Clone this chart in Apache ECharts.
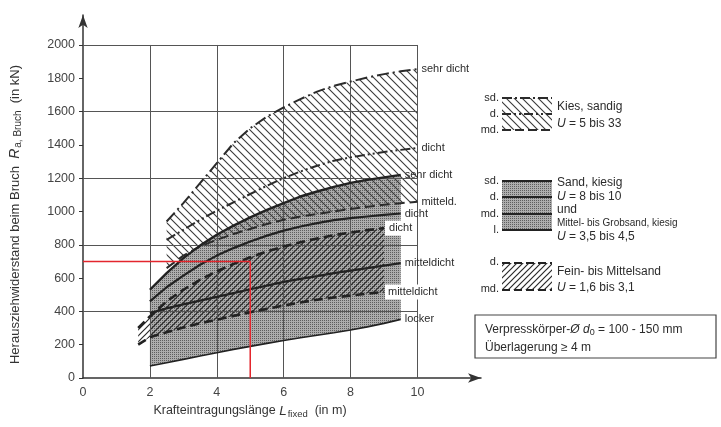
<!DOCTYPE html>
<html><head><meta charset="utf-8">
<script src="https://cdn.jsdelivr.net/npm/echarts@6/dist/echarts.min.js"></script>
<style>html,body{margin:0;padding:0;background:#fff}#c{width:721px;height:427px}</style>
</head><body><div id="c"></div>
<script>
// ---- axes / ticks ----
const xTicks = [0, 2, 4, 6, 8, 10];
const yTicks = [0, 200, 400, 600, 800, 1000, 1200, 1400, 1600, 1800, 2000];
const gridX = [2, 4, 6, 8, 10];
const gridY = [400, 800, 1200, 1600, 2000];

// ---- Kies, sandig (U = 5 bis 33) ----
const kiesX  = [2.5, 3, 3.5, 4, 4.5, 5, 5.5, 6, 6.5, 7, 7.5, 8, 8.5, 9, 9.5, 10];
const kiesSd = [940, 1050, 1170, 1290, 1410, 1500, 1570, 1625, 1675, 1720, 1755, 1780, 1805, 1825, 1842, 1855];
const kiesD  = [830, 890, 950, 1005, 1055, 1105, 1155, 1200, 1240, 1275, 1305, 1325, 1342, 1357, 1370, 1382];
const kiesMd = [660, 735, 790, 830, 865, 895, 925, 950, 970, 985, 1000, 1015, 1028, 1040, 1050, 1058];

// ---- Sand, kiesig / Mittel- bis Grobsand, kiesig ----
const sandX  = [2, 2.5, 3, 3.5, 4, 4.5, 5, 5.5, 6, 6.5, 7, 7.5, 8, 8.5, 9, 9.5];
const sandSd = [530, 630, 720, 795, 860, 915, 965, 1010, 1050, 1090, 1120, 1148, 1172, 1190, 1205, 1220];
const sandD  = [460, 545, 615, 680, 735, 780, 820, 855, 885, 910, 930, 948, 960, 970, 980, 988];
const sandMd = [390, 418, 442, 465, 487, 510, 533, 555, 577, 595, 612, 630, 645, 660, 675, 690];
const sandL  = [72, 92, 112, 132, 152, 172, 190, 208, 225, 242, 257, 272, 288, 307, 328, 352];

// ---- Fein- bis Mittelsand (U = 1,6 bis 3,1) ----
const feinX  = [1.65, 2, 2.5, 3, 3.5, 4, 4.5, 5, 5.5, 6, 6.5, 7, 7.5, 8, 8.5, 9];
const feinD  = [300, 370, 460, 530, 590, 640, 685, 725, 760, 790, 815, 838, 858, 873, 888, 900];
const feinMd = [200, 245, 275, 303, 328, 350, 373, 395, 415, 435, 453, 470, 483, 495, 507, 517];

// ---- red reading line ----
const refX = [0, 5, 5];
const refY = [700, 700, 0];

const FONT = '"Liberation Sans", Arial, sans-serif';
const INK = '#2b2b2b';

function hatch(size, color, width, dir) {
  const c = document.createElement('canvas'); c.width = size; c.height = size;
  const g = c.getContext('2d'); g.strokeStyle = color; g.lineWidth = width;
  g.beginPath();
  if (dir === 'back') {
    g.moveTo(-1, -1); g.lineTo(size + 1, size + 1);
    g.moveTo(-1, size - 1); g.lineTo(1, size + 1);
    g.moveTo(size - 1, -1); g.lineTo(size + 1, 1);
  } else {
    g.moveTo(-1, size + 1); g.lineTo(size + 1, -1);
    g.moveTo(-1, 1); g.lineTo(1, -1);
    g.moveTo(size - 1, size + 1); g.lineTo(size + 1, size - 1);
  }
  g.stroke();
  return c;
}
function dots() {
  const c = document.createElement('canvas'); c.width = 2; c.height = 2;
  const g = c.getContext('2d');
  g.fillStyle = '#adadad'; g.fillRect(0, 0, 2, 2);
  g.fillStyle = '#5e5e5e'; g.fillRect(0, 0, 1, 1);
  return c;
}
const kiesPat = { image: hatch(8, '#3a3a3a', 1.1, 'back'), repeat: 'repeat' };
const feinPat = { image: hatch(6, '#2a2a2a', 1.2, 'fwd'), repeat: 'repeat' };
const grayPat = { image: dots(), repeat: 'repeat' };

function region(xs, up, lo, fill, z) {
  return {
    type: 'custom', z: z, silent: true, clip: false,
    data: [[xs[0], up[0]]],
    renderItem: function (params, api) {
      const pts = [];
      for (let i = 0; i < xs.length; i++) pts.push(api.coord([xs[i], up[i]]));
      for (let i = xs.length - 1; i >= 0; i--) pts.push(api.coord([xs[i], lo[i]]));
      return { type: 'polygon', shape: { points: pts }, style: { fill: fill } };
    }
  };
}
function curve(xs, ys, label, ls, lab) {
  return {
    type: 'line', z: 5, silent: true, symbol: 'none', showSymbol: false,
    data: xs.map((x, i) => [x, ys[i]]),
    lineStyle: Object.assign({ color: INK, width: 2 }, ls),
    endLabel: Object.assign({ show: true, formatter: label, color: INK, fontSize: 11,
      fontFamily: FONT, distance: 4 }, lab || {})
  };
}

const markData = [];
gridY.forEach(v => markData.push([{ coord: [0, v] }, { coord: [10, v] }]));
gridX.forEach(v => markData.push([{ coord: [v, 0] }, { coord: [v, 2000] }]));

const chart = echarts.init(document.getElementById('c'));
chart.setOption({
  animation: false,
  backgroundColor: '#ffffff',
  textStyle: { fontFamily: FONT },
  grid: { left: 78, right: 240, top: 15, bottom: 49, containLabel: false },
  xAxis: {
    type: 'value', min: 0, max: 11.9, interval: 2,
    name: '{a|Krafteintragungslänge }{i|L}{s|fixed}{a|  (in m)}',
    nameLocation: 'middle', nameGap: 24,
    nameTextStyle: { padding: [0, 64, 0, 0], rich: {
      a: { fontSize: 12.5, color: '#333', fontFamily: FONT },
      i: { fontSize: 13.5, color: '#333', fontStyle: 'italic', fontFamily: FONT },
      s: { fontSize: 9.5, color: '#333', fontFamily: FONT, verticalAlign: 'bottom', padding: [6, 0, 0, 1] } } },
    axisLine: { show: true, symbol: ['none', 'arrow'], symbolSize: [7, 13], lineStyle: { color: '#333', width: 1.5 } },
    axisTick: { show: false },
    axisLabel: { customValues: xTicks, color: '#444', fontSize: 12.5, margin: 8, formatter: v => String(v) },
    splitLine: { show: false }
  },
  yAxis: {
    type: 'value', min: 0, max: 2180, interval: 200,
    name: '{a|Herausziehwiderstand beim Bruch  }{i|R}{s|a, Bruch}{a|  (in kN)}',
    nameLocation: 'middle', nameGap: 60, nameRotate: 90,
    nameTextStyle: { padding: [0, 36, 0, 0], rich: {
      a: { fontSize: 13, color: '#333', fontFamily: FONT },
      i: { fontSize: 14, color: '#333', fontStyle: 'italic', fontFamily: FONT },
      s: { fontSize: 10, color: '#333', fontFamily: FONT, verticalAlign: 'bottom', padding: [6, 0, 0, 1] } } },
    axisLine: { show: true, symbol: ['none', 'arrow'], symbolSize: [7, 13], lineStyle: { color: '#333', width: 1.5 } },
    axisTick: { show: true, customValues: yTicks, length: 4, lineStyle: { color: '#333' } },
    axisLabel: { customValues: yTicks, color: '#444', fontSize: 12.5, margin: 8, formatter: v => String(v) },
    splitLine: { show: false }
  },
  series: [
    region(sandX, sandSd, sandL, grayPat, 1),
    region(feinX, feinD, feinMd, feinPat, 2),
    region(kiesX, kiesSd, kiesMd, kiesPat, 2),
    {
      type: 'line', data: [], z: 4, silent: true,
      markLine: { silent: true, symbol: 'none', label: { show: false },
        lineStyle: { color: '#555', width: 1, type: 'solid' }, data: markData }
    },
    curve(kiesX, kiesSd, 'sehr dicht', { type: [12, 4, 2, 4], width: 2 }),
    curve(kiesX, kiesD, 'dicht', { type: [10, 3, 2, 3, 2, 3], width: 2 }),
    curve(kiesX, kiesMd, 'mitteld.', { type: [10, 5], width: 2 }),
    curve(sandX, sandSd, 'sehr dicht', { width: 2.4, color: '#222' }),
    curve(sandX, sandD, 'dicht', { width: 2.2, color: '#222' }),
    curve(sandX, sandMd, 'mitteldicht', { width: 2.2, color: '#222' }),
    curve(sandX, sandL, 'locker', { width: 1.6, color: '#222' }),
    curve(feinX, feinD, 'dicht', { type: [9, 5], width: 2.6, color: '#222' },
      { backgroundColor: '#fff', padding: [2, 4], distance: 1 }),
    curve(feinX, feinMd, 'mitteldicht', { type: [9, 5], width: 2.6, color: '#222' },
      { backgroundColor: '#fff', padding: [2, 3], distance: 1 }),
    {
      type: 'line', z: 6, silent: true, symbol: 'none',
      data: refX.map((x, i) => [x, refY[i]]),
      lineStyle: { color: '#e3262d', width: 1.5 }
    }
  ],
  graphic: [
    // Kies legend
    { type: 'rect', shape: { x: 502, y: 98, width: 50, height: 32 }, style: { fill: kiesPat } },
    { type: 'line', shape: { x1: 502, y1: 98, x2: 552, y2: 98 }, style: { stroke: INK, lineWidth: 1.8, lineDash: [10, 3, 2, 3] } },
    { type: 'line', shape: { x1: 502, y1: 114, x2: 552, y2: 114 }, style: { stroke: INK, lineWidth: 1.8, lineDash: [9, 3, 2, 3, 2, 3] } },
    { type: 'line', shape: { x1: 502, y1: 130, x2: 552, y2: 130 }, style: { stroke: INK, lineWidth: 1.8, lineDash: [9, 4] } },
    { type: 'text', x: 499, y: 98, style: { text: 'sd.', fontSize: 11, fontFamily: FONT, fill: INK, align: 'right', verticalAlign: 'middle' } },
    { type: 'text', x: 499, y: 114, style: { text: 'd.', fontSize: 11, fontFamily: FONT, fill: INK, align: 'right', verticalAlign: 'middle' } },
    { type: 'text', x: 499, y: 130, style: { text: 'md.', fontSize: 11, fontFamily: FONT, fill: INK, align: 'right', verticalAlign: 'middle' } },
    { type: 'text', x: 557, y: 107, style: { text: 'Kies, sandig', fontSize: 12, fontFamily: FONT, fill: INK, verticalAlign: 'middle' } },
    { type: 'text', x: 557, y: 124, style: { text: '{i|U} = 5 bis 33', fontSize: 12, fontFamily: FONT, fill: INK, verticalAlign: 'middle',
      rich: { i: { fontStyle: 'italic', fontSize: 12, fontFamily: FONT, fill: INK } } } },
    // Sand legend
    { type: 'rect', shape: { x: 502, y: 181, width: 50, height: 49 }, style: { fill: grayPat } },
    { type: 'line', shape: { x1: 502, y1: 181, x2: 552, y2: 181 }, style: { stroke: '#222', lineWidth: 2 } },
    { type: 'line', shape: { x1: 502, y1: 197, x2: 552, y2: 197 }, style: { stroke: '#222', lineWidth: 2 } },
    { type: 'line', shape: { x1: 502, y1: 214, x2: 552, y2: 214 }, style: { stroke: '#222', lineWidth: 2 } },
    { type: 'line', shape: { x1: 502, y1: 230, x2: 552, y2: 230 }, style: { stroke: '#222', lineWidth: 2 } },
    { type: 'text', x: 499, y: 181, style: { text: 'sd.', fontSize: 11, fontFamily: FONT, fill: INK, align: 'right', verticalAlign: 'middle' } },
    { type: 'text', x: 499, y: 197, style: { text: 'd.', fontSize: 11, fontFamily: FONT, fill: INK, align: 'right', verticalAlign: 'middle' } },
    { type: 'text', x: 499, y: 214, style: { text: 'md.', fontSize: 11, fontFamily: FONT, fill: INK, align: 'right', verticalAlign: 'middle' } },
    { type: 'text', x: 499, y: 230, style: { text: 'l.', fontSize: 11, fontFamily: FONT, fill: INK, align: 'right', verticalAlign: 'middle' } },
    { type: 'text', x: 557, y: 183, style: { text: 'Sand, kiesig', fontSize: 12, fontFamily: FONT, fill: INK, verticalAlign: 'middle' } },
    { type: 'text', x: 557, y: 197, style: { text: '{i|U} = 8 bis 10', fontSize: 12, fontFamily: FONT, fill: INK, verticalAlign: 'middle',
      rich: { i: { fontStyle: 'italic', fontSize: 12, fontFamily: FONT, fill: INK } } } },
    { type: 'text', x: 557, y: 210, style: { text: 'und', fontSize: 12, fontFamily: FONT, fill: INK, verticalAlign: 'middle' } },
    { type: 'text', x: 557, y: 223, style: { text: 'Mittel- bis Grobsand, kiesig', fontSize: 10, fontFamily: FONT, fill: INK, verticalAlign: 'middle' } },
    { type: 'text', x: 557, y: 237, style: { text: '{i|U} = 3,5 bis 4,5', fontSize: 12, fontFamily: FONT, fill: INK, verticalAlign: 'middle',
      rich: { i: { fontStyle: 'italic', fontSize: 12, fontFamily: FONT, fill: INK } } } },
    // Fein legend
    { type: 'rect', shape: { x: 502, y: 263, width: 50, height: 27 }, style: { fill: feinPat } },
    { type: 'line', shape: { x1: 502, y1: 263, x2: 552, y2: 263 }, style: { stroke: '#222', lineWidth: 2.2, lineDash: [8, 4] } },
    { type: 'line', shape: { x1: 502, y1: 290, x2: 552, y2: 290 }, style: { stroke: '#222', lineWidth: 2.2, lineDash: [8, 4] } },
    { type: 'text', x: 499, y: 262, style: { text: 'd.', fontSize: 11, fontFamily: FONT, fill: INK, align: 'right', verticalAlign: 'middle' } },
    { type: 'text', x: 499, y: 289, style: { text: 'md.', fontSize: 11, fontFamily: FONT, fill: INK, align: 'right', verticalAlign: 'middle' } },
    { type: 'text', x: 557, y: 272, style: { text: 'Fein- bis Mittelsand', fontSize: 12, fontFamily: FONT, fill: INK, verticalAlign: 'middle' } },
    { type: 'text', x: 557, y: 288, style: { text: '{i|U} = 1,6 bis 3,1', fontSize: 12, fontFamily: FONT, fill: INK, verticalAlign: 'middle',
      rich: { i: { fontStyle: 'italic', fontSize: 12, fontFamily: FONT, fill: INK } } } },
    // info box
    { type: 'rect', shape: { x: 475, y: 315, width: 241, height: 43 }, style: { fill: '#fff', stroke: '#444', lineWidth: 1.2 } },
    { type: 'text', x: 485, y: 330, style: { text: 'Verpresskörper-{i|Ø d}{s|0} = 100 - 150 mm', fontSize: 12, fontFamily: FONT, fill: INK, verticalAlign: 'middle',
      rich: { i: { fontStyle: 'italic', fontSize: 12, fontFamily: FONT, fill: INK }, s: { fontSize: 9, fontFamily: FONT, fill: INK, verticalAlign: 'bottom', padding: [6, 0, 0, 0] } } } },
    { type: 'text', x: 485, y: 348, style: { text: 'Überlagerung ≥ 4 m', fontSize: 12, fontFamily: FONT, fill: INK, verticalAlign: 'middle' } }
  ]
});
</script></body></html>
